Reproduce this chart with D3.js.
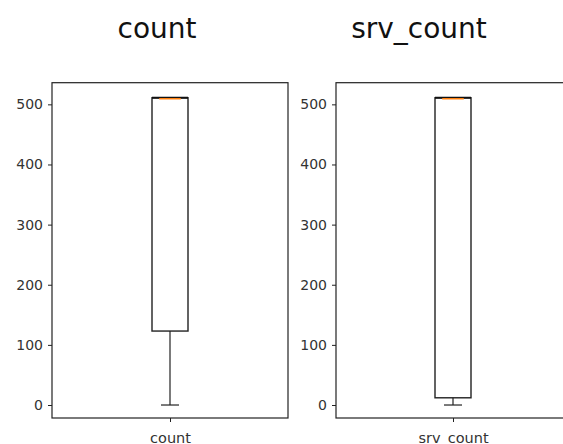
<!DOCTYPE html>
<html>
<head>
<meta charset="utf-8">
<script src="https://cdn.jsdelivr.net/npm/d3@7"></script>
<style>
  body { margin: 0; background: #fff; }
  svg { display: block; font-family: "DejaVu Sans", sans-serif; }
</style>
</head>
<body>
<svg id="chart" width="563" height="444"></svg>
<script>
// box plot stats per column
const columns = ['count', 'srv_count'];
const whiskerLow = [0, 0];
const q1 = [123, 12];
const median = [511, 511];
const q3 = [511, 511];
const whiskerHigh = [511, 511];
const yTicks = [0, 100, 200, 300, 400, 500];

const panels = [
  { left: 52, right: 288, titleX: 157 },
  { left: 336, right: 570, titleX: 419 }
];
const TOP = 82.7, BOTTOM = 418;
const BOX_W = 36;
const INK = '#222';

const svg = d3.select('#chart');

const y = d3.scaleLinear()
  .domain([-21.6, 536])
  .range([BOTTOM, TOP]);

columns.forEach((name, i) => {
  const p = panels[i];
  const x = d3.scalePoint()
    .domain([name])
    .range([p.left, p.right])
    .padding(0.5);

  const g = svg.append('g');

  // title
  g.append('text')
    .attr('x', p.titleX)
    .attr('y', 38)
    .attr('text-anchor', 'middle')
    .attr('font-size', 28)
    .attr('fill', '#111')
    .text(name);

  // y axis
  const yAxis = d3.axisLeft(y).tickValues(yTicks).tickSize(4).tickPadding(5);
  const ya = g.append('g').attr('transform', `translate(${p.left},0)`).call(yAxis);
  ya.select('.domain').remove();
  ya.selectAll('line').attr('stroke', INK);
  ya.selectAll('text').attr('font-size', 14).attr('fill', '#333')
    .attr('font-family', '"DejaVu Sans", sans-serif');

  // x axis
  const xAxis = d3.axisBottom(x).tickSize(4).tickPadding(11);
  const xa = g.append('g').attr('transform', `translate(0,${BOTTOM})`).call(xAxis);
  xa.select('.domain').remove();
  xa.selectAll('line').attr('stroke', INK);
  xa.selectAll('text').attr('font-size', 14.5).attr('fill', '#333')
    .attr('font-family', '"DejaVu Sans", sans-serif');

  // frame
  g.append('rect')
    .attr('x', p.left).attr('y', TOP)
    .attr('width', p.right - p.left).attr('height', BOTTOM - TOP)
    .attr('fill', 'none').attr('stroke', INK).attr('stroke-width', 1.2);

  const cx = x(name);

  // whiskers
  g.append('line')
    .attr('x1', cx).attr('x2', cx)
    .attr('y1', y(whiskerLow[i])).attr('y2', y(q1[i]))
    .attr('stroke', INK).attr('stroke-width', 1.2);
  g.append('line')
    .attr('x1', cx).attr('x2', cx)
    .attr('y1', y(q3[i])).attr('y2', y(whiskerHigh[i]))
    .attr('stroke', INK).attr('stroke-width', 1.2);

  // caps
  [whiskerLow[i], whiskerHigh[i]].forEach(v => {
    g.append('line')
      .attr('x1', cx - BOX_W / 4).attr('x2', cx + BOX_W / 4)
      .attr('y1', y(v)).attr('y2', y(v))
      .attr('stroke', INK).attr('stroke-width', 1.2);
  });

  // box
  g.append('rect')
    .attr('x', cx - BOX_W / 2)
    .attr('y', y(q3[i]))
    .attr('width', BOX_W)
    .attr('height', y(q1[i]) - y(q3[i]))
    .attr('fill', 'none')
    .attr('stroke', INK)
    .attr('stroke-width', 1.4);

  // thicker top edge where median sits
  g.append('line')
    .attr('x1', cx - BOX_W / 2).attr('x2', cx + BOX_W / 2)
    .attr('y1', y(q3[i])).attr('y2', y(q3[i]))
    .attr('stroke', '#111').attr('stroke-width', 2);

  // median
  g.append('line')
    .attr('x1', cx - BOX_W * 0.3).attr('x2', cx + BOX_W * 0.3)
    .attr('y1', y(median[i]) + 1).attr('y2', y(median[i]) + 1)
    .attr('stroke', '#ff7f0e').attr('stroke-width', 1.5);
});
</script>
</body>
</html>
